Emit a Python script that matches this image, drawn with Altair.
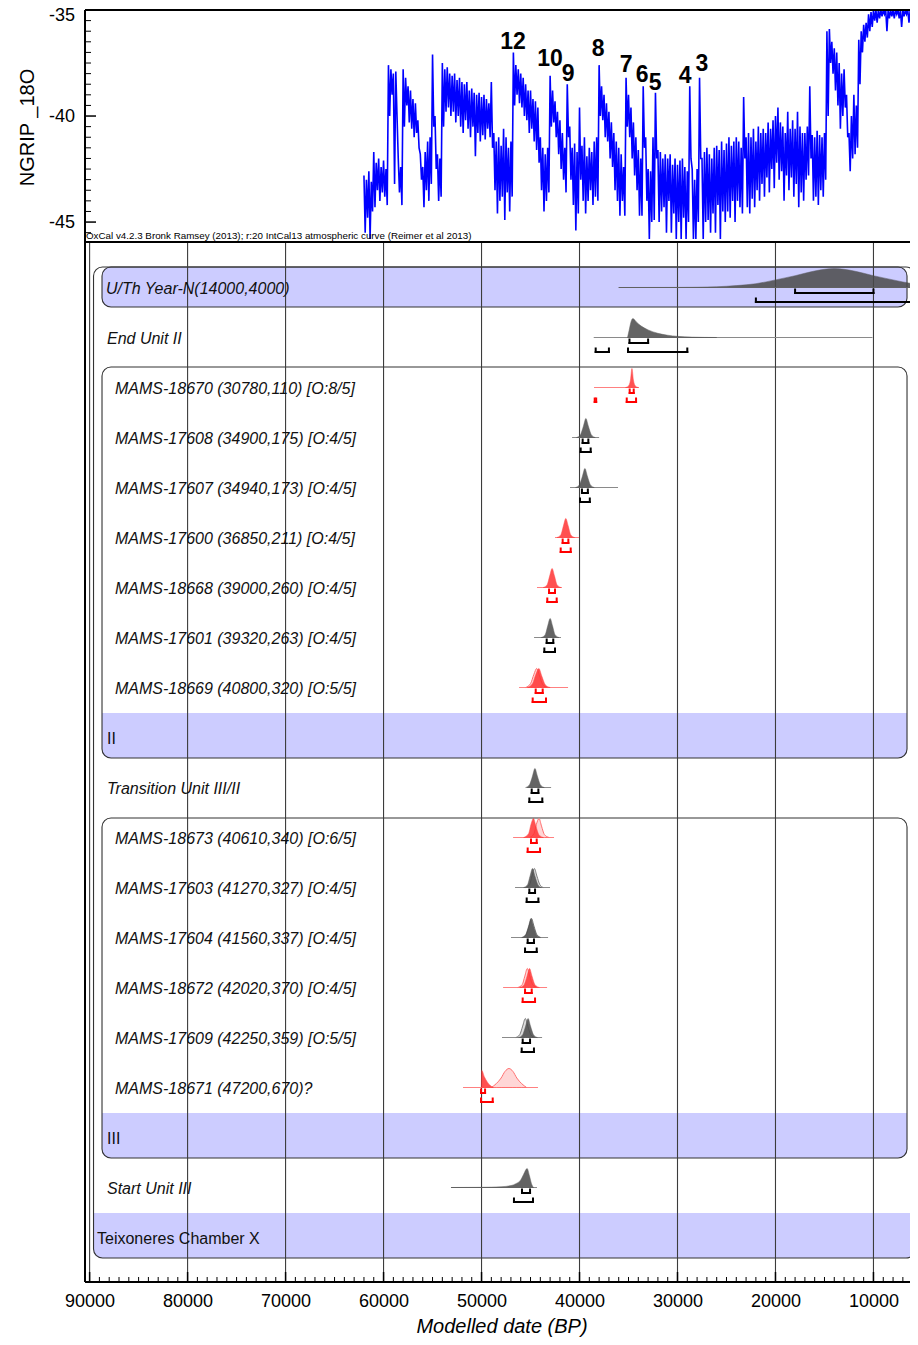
import altair as alt
import pandas as pd

FONT = "Liberation Sans, Arial, Helvetica, sans-serif"

W_VIEW, W_RANGE, H, TOP_H = 825, 833, 1272, 232
X_DOMAIN = [90470, 5455]

# ---------------- NGRIP record: upper / lower excursions every 250 yr from 62000 BP ----------------
ngrip_start, ngrip_step = 62000, 250
ngrip_hi = [
    -42.8, -43.0, -42.6, -43.1, -41.7, -42.2, -42.0, -42.4,
    -42.1, -42.5, -37.6, -37.8, -38.0, -37.9, -42.0, -42.4,
    -37.8, -38.2, -38.6, -38.8, -39.2, -39.4, -40.2, -41.8,
    -42.4, -41.7, -41.2, -41.0, -37.1, -40.0, -41.8, -42.0,
    -37.5, -37.8, -37.7, -38.0, -38.1, -38.0, -38.3, -38.2,
    -38.4, -38.5, -38.4, -38.8, -38.7, -38.9, -39.0, -38.9,
    -39.1, -39.0, -39.2, -39.4, -38.4, -40.8, -41.2, -41.0,
    -41.4, -40.6, -41.0, -41.5, -41.2, -37.0, -37.6, -37.8,
    -38.0, -38.2, -38.5, -38.8, -38.8, -39.2, -39.3, -39.6,
    -41.0, -41.5, -41.8, -41.5, -38.1, -38.8, -39.3, -39.8,
    -40.2, -40.8, -41.5, -38.5, -40.5, -41.5, -41.3, -41.7,
    -39.6, -41.4, -41.0, -41.9, -41.5, -41.7, -41.2, -41.0,
    -37.6, -38.6, -39.0, -39.4, -39.8, -40.3, -40.8, -41.2,
    -41.5, -41.8, -42.4, -38.2, -39.0, -39.6, -40.3, -41.0,
    -41.6, -42.0, -38.6, -41.0, -42.5, -42.6, -41.0, -38.9,
    -41.6, -41.7, -42.0, -41.8, -42.0, -41.8, -42.3, -42.0,
    -42.3, -42.1, -42.0, -42.4, -42.6, -38.6, -42.5, -43.0,
    -42.5, -38.2, -42.0, -41.7, -41.5, -41.8, -42.0, -41.5,
    -41.4, -41.6, -41.2, -41.6, -41.3, -41.0, -41.4, -41.2,
    -41.0, -41.2, -41.5, -39.1, -41.0, -40.8, -41.0, -40.6,
    -41.2, -40.5, -40.8, -40.6, -40.8, -40.3, -40.6, -40.2,
    -40.0, -39.6, -40.3, -40.5, -40.8, -39.8, -40.6, -40.2,
    -40.6, -39.8, -40.5, -40.8, -40.8, -40.5, -38.6, -40.9,
    -41.0, -40.7, -40.9, -41.0, -40.8, -36.0, -35.9, -36.5,
    -36.8, -37.0, -37.5, -38.0, -37.8, -39.0, -40.8, -40.0,
    -39.0, -39.5, -36.4, -36.0, -35.7, -35.6, -35.2, -35.1,
    -34.8, -34.7, -34.8, -34.7, -34.6, -34.7, -34.6, -34.6,
    -34.8, -34.7, -34.6, -34.7, -34.6, -34.7, -34.6, -34.8,
    -34.7, -34.6, -34.7,
]
ngrip_lo = [
    -45.5, -44.8, -45.8, -44.5, -44.3, -43.5, -44.0, -43.6,
    -43.8, -44.2, -40.0, -39.0, -43.2, -40.0, -43.6, -44.2,
    -40.5, -39.5, -40.3, -40.6, -41.0, -40.8, -41.5, -43.0,
    -44.3, -43.5, -44.0, -43.2, -40.5, -42.5, -44.0, -43.8,
    -40.5, -39.8, -39.6, -40.0, -39.8, -40.3, -40.0, -40.5,
    -40.8, -40.2, -40.6, -41.0, -40.5, -41.9, -40.8, -41.2,
    -40.9, -41.1, -40.6, -41.0, -41.5, -43.5, -44.6, -44.0,
    -43.8, -44.9, -43.6, -44.5, -43.8, -39.5, -39.0, -39.4,
    -39.6, -40.0, -40.2, -40.8, -40.6, -41.2, -41.6, -42.2,
    -43.5, -44.5, -44.0, -43.6, -40.5, -40.3, -41.0, -41.8,
    -42.5, -43.0, -43.6, -41.0, -43.0, -44.2, -45.4, -44.6,
    -43.0, -44.0, -44.6, -44.0, -43.5, -44.2, -43.8, -44.0,
    -40.0, -40.2, -41.0, -41.2, -42.0, -42.4, -43.5, -44.0,
    -44.7, -44.0, -44.7, -40.5, -41.0, -42.0, -42.8, -43.5,
    -44.7, -44.7, -41.5, -44.0, -45.8, -45.0, -44.9, -42.0,
    -45.0, -44.5, -44.3, -45.5, -44.0, -45.5, -44.6, -45.8,
    -45.0, -45.8, -44.8, -45.8, -45.0, -42.0, -45.8, -45.8,
    -45.0, -42.0, -45.8, -45.0, -44.9, -45.5, -44.6, -45.5,
    -44.2, -45.8, -44.5, -45.0, -44.5, -44.8, -44.0, -45.0,
    -44.0, -44.3, -44.6, -42.0, -44.3, -44.6, -43.9, -44.3,
    -43.5, -44.0, -43.2, -43.8, -42.9, -43.6, -42.5, -43.4,
    -42.2, -43.0, -42.6, -44.0, -42.8, -43.5, -42.9, -43.8,
    -43.2, -44.3, -43.6, -44.0, -43.0, -42.8, -42.0, -44.0,
    -43.8, -44.2, -43.5, -43.8, -43.0, -40.0, -37.5, -38.0,
    -38.8, -39.5, -40.6, -40.0, -39.6, -41.0, -42.6, -42.0,
    -41.8, -41.5, -38.5, -37.0, -36.5, -36.3, -36.0, -35.8,
    -35.5, -35.6, -35.4, -35.3, -35.2, -36.0, -35.4, -35.3,
    -35.4, -35.2, -35.4, -35.8, -35.3, -35.2, -35.6, -35.4,
    -35.3, -35.2, -35.4,
]
ngrip_dates, ngrip_vals = [], []
for i, (h, l) in enumerate(zip(ngrip_hi, ngrip_lo)):
    ngrip_dates += [ngrip_start - ngrip_step * i, ngrip_start - ngrip_step * i - ngrip_step / 2]
    ngrip_vals += [h, l]

do_labels = ["12", "10", "9", "8", "7", "6", "5", "4", "3"]
do_dates = [46790, 43010, 41170, 38110, 35250, 33620, 32290, 29230, 27500]
do_vals = [-36.51, -37.31, -38.02, -36.84, -37.59, -38.07, -38.44, -38.11, -37.55]

y_major = [-35, -40, -45]
y_major_text = ["-35", "-40", "-45"]
y_minor = [-35 - 0.5 * i for i in range(1, 22) if i % 10 != 0]

# ---------------- OxCal rows ----------------
row_labels = [
    "U/Th Year-N(14000,4000)", "End Unit II",
    "MAMS-18670 (30780,110) [O:8/5]", "MAMS-17608 (34900,175) [O:4/5]",
    "MAMS-17607 (34940,173) [O:4/5]", "MAMS-17600 (36850,211) [O:4/5]",
    "MAMS-18668 (39000,260) [O:4/5]", "MAMS-17601 (39320,263) [O:4/5]",
    "MAMS-18669 (40800,320) [O:5/5]", "II", "Transition Unit III/II",
    "MAMS-18673 (40610,340) [O:6/5]", "MAMS-17603 (41270,327) [O:4/5]",
    "MAMS-17604 (41560,337) [O:4/5]", "MAMS-18672 (42020,370) [O:4/5]",
    "MAMS-17609 (42250,359) [O:5/5]", "MAMS-18671 (47200,670)?", "III",
    "Start Unit III", "Teixoneres Chamber X",
]
row_label_x = [88326, 88224] + [87407] * 7 + [88224, 88224] + [87407] * 6 + [88224, 88224, 89245]
row_italic = [True] * 9 + [False] + [True] * 7 + [False, True, False]
row_kind = ["dark", "dark", "red", "dark", "dark", "red", "red", "dark", "red", None,
            "dark", "red", "dark", "dark", "red", "dark", "red", None, "dark", None]
row_base_from = [36000, 38550, 38520, 40760, 40970, 42500, 44340, 44640, 46170, None,
                 45350, 46780, 46580, 46990, 47800, 47910, 51890, None, 53120, None]
row_base_to = [5500, 10100, 33930, 38000, 36070, 40050, 41790, 41890, 41170, None,
               42900, 42600, 43010, 43210, 43310, 43820, 44240, None, 44340, None]

# posterior distributions (date BP, relative height)
post = {
    0: [(36000, 0), (30000, 0.005), (26000, 0.04), (24000, 0.1), (22000, 0.2), (20000, 0.4),
        (18000, 0.62), (16000, 0.87), (14000, 1.0), (12000, 0.87), (10000, 0.62), (8000, 0.4),
        (6000, 0.2), (4000, 0.1), (2000, 0.04)],
    1: [(35100, 0), (34950, 0.35), (34700, 0.9), (34550, 1.0), (34200, 0.82), (33700, 0.6),
        (33000, 0.4), (32000, 0.22), (31000, 0.12), (30000, 0.06), (28500, 0.02), (26000, 0)],
    2: [(35300, 0), (35000, 0.08), (34800, 0.4), (34650, 1.0), (34500, 0.4), (34300, 0.08), (34000, 0)],
    3: [(40300, 0), (39900, 0.15), (39600, 0.6), (39350, 1.0), (39100, 0.6), (38800, 0.15), (38400, 0)],
    4: [(40400, 0), (40000, 0.15), (39700, 0.6), (39450, 1.0), (39200, 0.6), (38900, 0.15), (38500, 0)],
    5: [(42300, 0), (41900, 0.15), (41650, 0.6), (41400, 1.0), (41150, 0.6), (40900, 0.15), (40500, 0)],
    6: [(43700, 0), (43300, 0.15), (43050, 0.6), (42800, 1.0), (42550, 0.6), (42300, 0.15), (41900, 0)],
    7: [(43900, 0), (43500, 0.15), (43250, 0.6), (43000, 1.0), (42750, 0.6), (42500, 0.15), (42100, 0)],
    8: [(45300, 0), (44800, 0.2), (44450, 0.7), (44150, 1.0), (43850, 0.6), (43500, 0.15), (43000, 0)],
    10: [(45500, 0), (45100, 0.15), (44800, 0.6), (44550, 1.0), (44300, 0.6), (44000, 0.15), (43600, 0)],
    11: [(45700, 0), (45200, 0.2), (44950, 0.7), (44700, 1.0), (44450, 0.6), (44150, 0.15), (43700, 0)],
    12: [(45700, 0), (45300, 0.15), (45050, 0.6), (44800, 1.0), (44550, 0.6), (44250, 0.15), (43900, 0)],
    13: [(45900, 0), (45500, 0.15), (45200, 0.6), (44950, 1.0), (44700, 0.6), (44400, 0.15), (44000, 0)],
    14: [(46100, 0), (45650, 0.15), (45350, 0.6), (45100, 1.0), (44850, 0.6), (44550, 0.15), (44100, 0)],
    15: [(46200, 0), (45800, 0.15), (45500, 0.6), (45250, 1.0), (45000, 0.6), (44700, 0.15), (44300, 0)],
    16: [(50020, 0), (49980, 0.9), (49700, 0.55), (49400, 0.28), (49100, 0.1), (48800, 0)],
    18: [(53100, 0), (50000, 0.01), (48000, 0.04), (47000, 0.1), (46500, 0.2), (46000, 0.4),
         (45700, 0.7), (45350, 1.0), (45100, 0.6), (44900, 0.2), (44700, 0)],
}
# prior (unmodelled) distributions drawn as light outlines
prior = {
    8: [(45500, 0), (45000, 0.2), (44650, 0.7), (44370, 1.0), (44100, 0.65), (43750, 0.15), (43300, 0)],
    11: [(45100, 0), (44650, 0.2), (44400, 0.7), (44130, 1.0), (43880, 0.6), (43580, 0.15), (43100, 0)],
    12: [(45500, 0), (45100, 0.15), (44850, 0.6), (44610, 1.0), (44350, 0.6), (44050, 0.15), (43700, 0)],
    13: [(45850, 0), (45450, 0.15), (45150, 0.6), (44900, 1.0), (44650, 0.6), (44350, 0.15), (43950, 0)],
    14: [(46300, 0), (45850, 0.15), (45580, 0.6), (45330, 1.0), (45080, 0.6), (44780, 0.15), (44300, 0)],
    15: [(46500, 0), (46100, 0.15), (45800, 0.6), (45530, 1.0), (45280, 0.6), (44980, 0.15), (44600, 0)],
    16: [(49000, 0), (48500, 0.2), (48000, 0.5), (47600, 0.85), (47200, 1.0), (46800, 0.85),
         (46400, 0.5), (45900, 0.2), (45400, 0)],
}
# highest posterior density ranges
b68 = {0: [(18000, 10000)], 1: [(34900, 33000)], 2: [(34880, 34470)], 3: [(39680, 39100)],
       4: [(39750, 39150)], 5: [(41720, 41140)], 6: [(43110, 42500)], 7: [(43350, 42680)],
       8: [(44470, 43760)], 10: [(44880, 44200)], 11: [(44950, 44370)], 12: [(45120, 44540)],
       13: [(45290, 44650)], 14: [(45560, 44880)], 15: [(45800, 45050)], 16: [(50050, 49640)],
       18: [(45870, 45050)]}
b95 = {0: [(22000, 6000)], 1: [(38350, 37000), (35050, 29000)], 2: [(38450, 38300), (35180, 34230)],
       3: [(39880, 38860)], 4: [(39950, 38950)], 5: [(41920, 40900)], 6: [(43290, 42330)],
       7: [(43590, 42500)], 8: [(44780, 43420)], 10: [(45120, 43800)], 11: [(45290, 44030)],
       12: [(45390, 44200)], 13: [(45560, 44370)], 14: [(45800, 44540)], 15: [(45900, 44650)],
       16: [(50050, 48860)], 18: [(46690, 44750)]}

# boxes (x from, x to, row top, row bottom)
box_names = ["outer", "uth", "II", "III"]
box_x1 = [89600, 88734, 88734, 88734]
box_x2 = [5760, 6576, 6576, 6576]
box_y1 = [-0.44, -0.44, 1.56, 10.58]
box_y2 = [19.38, 0.36, 9.38, 17.38]
band_x1 = [88734, 88734, 89600]
band_x2 = [6576, 6576, 5760]
band_y1 = [8.48, 16.48, 18.48]
band_y2 = [9.38, 17.38, 19.38]

grid_dates = [90000, 80000, 70000, 60000, 50000, 40000, 30000, 20000, 10000]
minor_dates = [d for d in range(90000, 5999, -1000) if d % 10000 != 0]

HEADER = "OxCal v4.2.3 Bronk Ramsey (2013); r:20 IntCal13 atmospheric curve (Reimer et al 2013)"

# ---------------- colours ----------------
LAV = "#ccccff"
COL = {
    "dark": dict(post="#4a4a4a", prior_fill="#dedede", prior_stroke="#7c7c7c", base="#8a8a8a", br="#000000"),
    "red": dict(post="#ff3333", prior_fill="#ffd6d6", prior_stroke="#ff7070", base="#ff8080", br="#ff0000"),
}
HS, BOFF = 0.38, -0.03

# ---------------- tables ----------------
ngrip_df = pd.DataFrame({"date": ngrip_dates, "val": ngrip_vals})
do_df = pd.DataFrame({"lab": do_labels, "date": do_dates, "val": do_vals})
ylab_df = pd.DataFrame({"v": y_major, "t": y_major_text})
ymaj_df = pd.DataFrame({"v": y_major})
ymin_df = pd.DataFrame({"v": y_minor})

lab_df = pd.DataFrame({"lab": row_labels, "x": row_label_x, "row": list(range(len(row_labels))),
                       "it": row_italic})

base_rows = []
for r, (a, b) in enumerate(zip(row_base_from, row_base_to)):
    if a is not None:
        base_rows.append(dict(row=r, a=a, b=b, y=r + BOFF, col=COL[row_kind[r]]["base"]))
base_df = pd.DataFrame(base_rows)


def dist_df(dct, tag):
    recs = []
    for r, pts in dct.items():
        c = COL[row_kind[r]]
        for d, h in pts:
            recs.append(dict(key=f"{tag}{r}", date=d, y=r + BOFF - HS * h, yb=r + BOFF,
                             fill=c["post"] if tag == "post" else c["prior_fill"],
                             stroke=c["post"] if tag == "post" else c["prior_stroke"]))
    return pd.DataFrame(recs)


post_df = dist_df(post, "post")
prior_df = dist_df(prior, "prior")

br_rows = []
for dct, off in ((b68, 0.08), (b95, 0.26)):
    for r, ranges in dct.items():
        for lo, hi in ranges:
            yb = r + off
            br_rows.append(dict(lo=lo, hi=hi, yb=yb, yt=yb - 0.07, col=COL[row_kind[r]]["br"]))
br_df = pd.DataFrame(br_rows)

box_df = pd.DataFrame({"n": box_names, "x1": box_x1, "x2": box_x2, "y1": box_y1, "y2": box_y2})
band_df = pd.DataFrame({"x1": band_x1, "x2": band_x2, "y1": band_y1, "y2": band_y2})
grid_df = pd.DataFrame({"d": grid_dates})
minor_df = pd.DataFrame({"d": minor_dates})
one_df = pd.DataFrame({"t": [HEADER]})

# ---------------- scales / axes ----------------
XSC = alt.Scale(domain=X_DOMAIN, range=[0, W_RANGE], nice=False, zero=False)
XAX = alt.Axis(values=grid_dates, format="d", ticks=False, domain=False, grid=False, labelFlush=False,
               labelFontSize=18, labelFont=FONT, labelColor="#000", labelPadding=10,
               title="Modelled date (BP)", titleFont=FONT, titleFontSize=20, titleFontStyle="italic",
               titleFontWeight="normal", titleColor="#000", titlePadding=6)
YM = alt.Scale(domain=[-0.94, 19.86], range=[TOP_H, H], nice=False, zero=False)
YT = alt.Scale(domain=[-45.94, -35], range=[TOP_H, 0], nice=False, zero=False, clamp=True)
YTAX = alt.Axis(values=y_major, labels=False, ticks=False, domain=False, grid=False,
                title="NGRIP _18O", titleFont=FONT, titleFontSize=20, titleFontWeight="normal",
                titleColor="#000", titleX=-58, titleY=117, titleAngle=270, titleBaseline="middle",
                titleAlign="center")


def X(f):
    return alt.X(f, scale=XSC, axis=XAX)


def YMf(f):
    return alt.Y(f, scale=YM, axis=None)


def YTf(f):
    return alt.Y(f, scale=YT, axis=YTAX)


# ---------------- top panel ----------------
ngrip_line = alt.Chart(ngrip_df).mark_line(color="#0000ff", strokeWidth=1.6, clip=True).encode(
    x=X("date:Q"), y=YTf("val:Q"))
do_text = alt.Chart(do_df).mark_text(font=FONT, fontWeight="bold", fontSize=23, color="#000",
                                     baseline="middle", align="center").encode(
    x=X("date:Q"), y=YTf("val:Q"), text="lab:N")
ylab_first = alt.Chart(ylab_df).transform_filter("datum.v == -35").mark_text(
    font=FONT, fontSize=18, color="#000", align="right", baseline="middle", dy=6).encode(
    x=alt.value(-10), y=YTf("v:Q"), text="t:N")
ylab_rest = alt.Chart(ylab_df).transform_filter("datum.v != -35").mark_text(
    font=FONT, fontSize=18, color="#000", align="right", baseline="middle", dy=1).encode(
    x=alt.value(-10), y=YTf("v:Q"), text="t:N")
ytick_maj = alt.Chart(ymaj_df).mark_rule(color="#000", strokeWidth=1.5).encode(
    x=alt.value(0), x2=alt.value(11), y=YTf("v:Q"))
ytick_min = alt.Chart(ymin_df).mark_rule(color="#000", strokeWidth=1).encode(
    x=alt.value(0), x2=alt.value(6), y=YTf("v:Q"))
top = alt.layer(ngrip_line, do_text, ylab_first, ylab_rest, ytick_maj, ytick_min)

# ---------------- main panel ----------------
band_fill = alt.Chart(band_df).mark_rect(color=LAV, cornerRadiusBottomLeft=8,
                                         cornerRadiusBottomRight=8).encode(
    x=X("x1:Q"), x2="x2:Q", y=YMf("y1:Q"), y2="y2:Q")
uth_fill = alt.Chart(box_df).transform_filter("datum.n == 'uth'").mark_rect(
    color=LAV, cornerRadius=8).encode(x=X("x1:Q"), x2="x2:Q", y=YMf("y1:Q"), y2="y2:Q")
box_line = alt.Chart(box_df).mark_rect(fillOpacity=0, stroke="#333", strokeWidth=1.1,
                                       cornerRadius=9).encode(
    x=X("x1:Q"), x2="x2:Q", y=YMf("y1:Q"), y2="y2:Q")
grid = alt.Chart(grid_df).mark_rule(color="#3c3c3c", strokeWidth=1.1).encode(
    x=X("d:Q"), y=alt.value(TOP_H), y2=alt.value(H))
baselines = alt.Chart(base_df).mark_rule(strokeWidth=1).encode(
    x=X("a:Q"), x2="b:Q", y=YMf("y:Q"), color=alt.Color("col:N", scale=None))
priors = alt.Chart(prior_df).mark_area(interpolate="monotone", strokeWidth=1).encode(
    x=X("date:Q"), y=YMf("y:Q"), y2="yb:Q", detail="key:N",
    fill=alt.Fill("fill:N", scale=None), stroke=alt.Stroke("stroke:N", scale=None))
posts = alt.Chart(post_df).mark_area(interpolate="monotone", opacity=0.85, strokeWidth=0.5).encode(
    x=X("date:Q"), y=YMf("y:Q"), y2="yb:Q", detail="key:N",
    fill=alt.Fill("fill:N", scale=None), stroke=alt.Stroke("stroke:N", scale=None))
br_h = alt.Chart(br_df).mark_rule(strokeWidth=2, strokeCap="square").encode(
    x=X("lo:Q"), x2="hi:Q", y=YMf("yb:Q"), color=alt.Color("col:N", scale=None))
br_l = alt.Chart(br_df).mark_rule(strokeWidth=2, strokeCap="square").encode(
    x=X("lo:Q"), y=YMf("yb:Q"), y2="yt:Q", color=alt.Color("col:N", scale=None))
br_r = alt.Chart(br_df).mark_rule(strokeWidth=2, strokeCap="square").encode(
    x=X("hi:Q"), y=YMf("yb:Q"), y2="yt:Q", color=alt.Color("col:N", scale=None))
lab_it = alt.Chart(lab_df).transform_filter("datum.it").mark_text(
    align="left", baseline="middle", font=FONT, fontSize=16, fontStyle="italic", color="#111").encode(
    x=X("x:Q"), y=YMf("row:Q"), text="lab:N")
lab_up = alt.Chart(lab_df).transform_filter("!datum.it").mark_text(
    align="left", baseline="middle", font=FONT, fontSize=16, color="#111").encode(
    x=X("x:Q"), y=YMf("row:Q"), text="lab:N")
xt_maj = alt.Chart(grid_df).mark_rule(color="#000", strokeWidth=1.5).encode(
    x=X("d:Q"), y=alt.value(H), y2=alt.value(H - 10))
xt_min = alt.Chart(minor_df).mark_rule(color="#000", strokeWidth=1).encode(
    x=X("d:Q"), y=alt.value(H), y2=alt.value(H - 5))
main = alt.layer(band_fill, uth_fill, box_line, grid, baselines, priors, posts,
                 br_h, br_l, br_r, lab_it, lab_up, xt_maj, xt_min)

# ---------------- frame ----------------
frame_left = alt.Chart(one_df).mark_rule(color="#000", strokeWidth=2).encode(
    x=alt.value(0), y=alt.value(0), y2=alt.value(H))
frame_top = alt.Chart(one_df).mark_rule(color="#000", strokeWidth=2).encode(
    x=alt.value(0), x2=alt.value(W_RANGE), y=alt.value(0))
frame_mid = alt.Chart(one_df).mark_rule(color="#000", strokeWidth=2).encode(
    x=alt.value(0), x2=alt.value(W_RANGE), y=alt.value(TOP_H))
frame_bot = alt.Chart(one_df).mark_rule(color="#000", strokeWidth=2).encode(
    x=alt.value(0), x2=alt.value(W_RANGE), y=alt.value(H))
header = alt.Chart(one_df).mark_text(align="left", baseline="middle", font=FONT, fontSize=9.8,
                                     color="#000").encode(
    x=alt.value(1), y=alt.value(TOP_H - 6), text="t:N")
frame = alt.layer(frame_left, frame_top, frame_mid, frame_bot, header)

chart = alt.layer(main, top, frame).resolve_scale(y="independent").properties(
    width=W_VIEW, height=H,
    padding={"left": 77, "top": 2, "right": 0, "bottom": 55},
    autosize=alt.AutoSizeParams(type="none"),
).configure_view(stroke=None)

chart.save("out.html", embed_options={"renderer": "svg", "actions": False})
